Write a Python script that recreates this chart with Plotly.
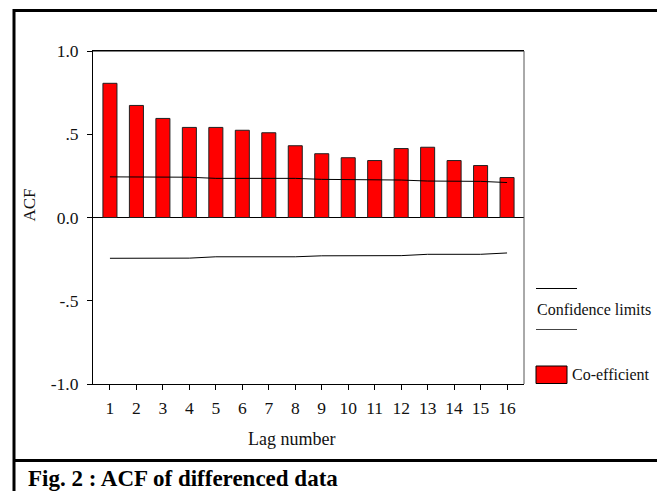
import plotly.graph_objects as go

lags = list(range(1, 17))
acf_values = [0.806, 0.673, 0.595, 0.541, 0.541, 0.524, 0.509, 0.431,
              0.383, 0.359, 0.342, 0.414, 0.422, 0.342, 0.312, 0.240]
upper_limits = [0.244, 0.244, 0.244, 0.242, 0.235, 0.235, 0.235, 0.235,
                0.229, 0.229, 0.229, 0.225, 0.219, 0.219, 0.217, 0.210]
lower_limits = [-0.245, -0.245, -0.245, -0.244, -0.236, -0.236, -0.236, -0.236,
                -0.230, -0.230, -0.230, -0.229, -0.221, -0.221, -0.221, -0.213]
y_tickvals = [-1.0, -0.5, 0.0, 0.5, 1.0]
y_ticktext = ["-1.0", "-.5", "0.0", ".5", "1.0"]

W, H = 657, 491
FONT = "Liberation Serif, Times New Roman, serif"

def px(x):
    return x / W

def py(y):
    return 1 - y / H

fig = go.Figure()
fig.add_trace(go.Bar(x=lags, y=acf_values, width=0.53,
                     marker=dict(color="#ff0000", line=dict(color="#202020", width=1)),
                     showlegend=False))
fig.add_trace(go.Scatter(x=lags, y=upper_limits, mode="lines",
                         line=dict(color="black", width=1), showlegend=False))
fig.add_trace(go.Scatter(x=lags, y=lower_limits, mode="lines",
                         line=dict(color="black", width=1), showlegend=False))

fig.update_layout(
    width=W, height=H, template="none",
    margin=dict(l=0, r=0, t=0, b=0),
    paper_bgcolor="white", plot_bgcolor="white",
    font=dict(family=FONT, size=17, color="#111"),
    xaxis=dict(domain=[px(93), px(524)], range=[0.36, 16.64],
               tickvals=lags, ticks="outside", ticklen=5, tickcolor="black",
               ticklabelstandoff=3,
               showgrid=False, zeroline=False, showline=True, linecolor="black",
               linewidth=1, mirror=True, automargin=False,
               tickfont=dict(family=FONT, size=17.5)),
    yaxis=dict(domain=[py(384), py(51)], range=[-1.0, 1.0],
               tickvals=y_tickvals, ticktext=y_ticktext,
               ticks="outside", ticklen=5, tickcolor="black",
               ticklabelstandoff=5,
               showgrid=False, zeroline=True, zerolinecolor="black", zerolinewidth=1,
               showline=True, linecolor="black", linewidth=1, mirror=False,
               automargin=False, tickfont=dict(family=FONT, size=17.5)),
    bargap=0.3,
)

shapes = []
# plot box top and right edges
shapes.append(dict(type="line", xref="paper", yref="paper", x0=px(93), x1=px(524),
                   y0=py(51), y1=py(51), line=dict(color="black", width=1)))
shapes.append(dict(type="line", xref="paper", yref="paper", x0=px(524), x1=px(524),
                   y0=py(51), y1=py(384), line=dict(color="#555", width=1)))
# outer frame
shapes.append(dict(type="line", xref="paper", yref="paper", x0=px(14), x1=px(14),
                   y0=py(9), y1=py(491), line=dict(color="black", width=3)))
shapes.append(dict(type="line", xref="paper", yref="paper", x0=px(13), x1=px(657),
                   y0=py(10.5), y1=py(10.5), line=dict(color="black", width=3)))
shapes.append(dict(type="line", xref="paper", yref="paper", x0=px(13), x1=px(657),
                   y0=py(460.5), y1=py(460.5), line=dict(color="black", width=3)))
# legend lines
shapes.append(dict(type="line", xref="paper", yref="paper", x0=px(536), x1=px(577),
                   y0=py(288.5), y1=py(288.5), line=dict(color="black", width=1)))
shapes.append(dict(type="line", xref="paper", yref="paper", x0=px(536), x1=px(577),
                   y0=py(329.5), y1=py(329.5), line=dict(color="#444", width=1)))
shapes.append(dict(type="rect", xref="paper", yref="paper", x0=px(536), x1=px(567),
                   y0=py(383.5), y1=py(366), fillcolor="#ff0000",
                   line=dict(color="black", width=1)))
fig.update_layout(shapes=shapes)

annotations = [
    dict(text="ACF", x=px(28.5), y=py(205), xref="paper", yref="paper",
         textangle=-90, showarrow=False, font=dict(family=FONT, size=17),
         xanchor="center", yanchor="middle"),
    dict(text="Lag number", x=px(291), y=py(439), xref="paper", yref="paper",
         showarrow=False, font=dict(family=FONT, size=18),
         xanchor="center", yanchor="middle"),
    dict(text="Confidence limits", x=px(535), y=py(309), xref="paper", yref="paper",
         showarrow=False, font=dict(family=FONT, size=16),
         xanchor="left", yanchor="middle"),
    dict(text="Co-efficient", x=px(570), y=py(374), xref="paper", yref="paper",
         showarrow=False, font=dict(family=FONT, size=16),
         xanchor="left", yanchor="middle"),
    dict(text="<b>Fig. 2 : ACF of differenced data</b>", x=px(26), y=py(478.5),
         xref="paper", yref="paper", showarrow=False,
         font=dict(family=FONT, size=23, color="black"),
         xanchor="left", yanchor="middle"),
]
fig.update_layout(annotations=annotations)

fig.write_html("out.html", config={"displayModeBar": False},
               post_script="document.body.style.margin='0';document.body.style.overflow='hidden';")
